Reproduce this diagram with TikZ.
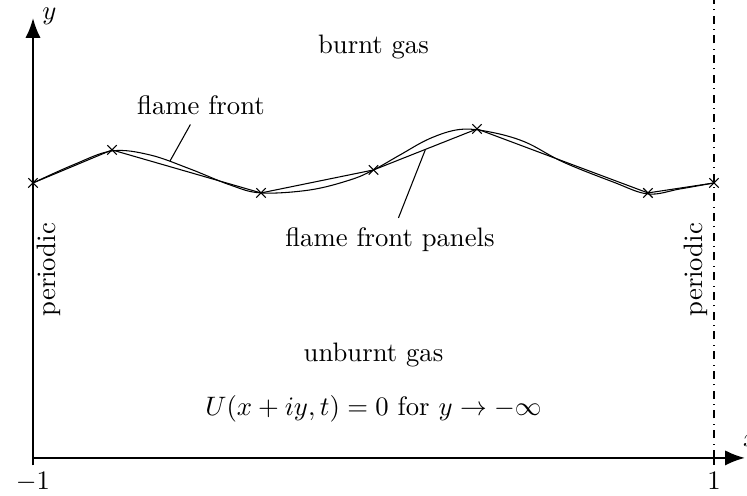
\documentclass[tikz,border=0pt]{standalone}
\usepackage{tikz}
\usetikzlibrary{arrows.meta,positioning}
\tikzset{
  axis/.style  = {thick, -{Latex[length=2.6mm,width=2mm]}},
  tick/.style  = {thick},
  front/.style = {thin},
  panel/.style = {thin, mark=x, mark size=2.5pt},
  lead/.style  = {thin},
  perline/.style = {thin, dash dot},
  lbl/.style   = {align=center},
  per/.style   = {rotate=90, inner sep=1pt},
}

\begin{document}
\begin{tikzpicture}[x=4.485cm, y=4.485cm]
    \useasboundingbox (-1.097,-0.1116) rectangle (1.097,1.345);
    % achsen
    \coordinate (o)  at (-1,0);
    \coordinate (xe) at (1.091,0);
    \coordinate (yb) at (-1,-0.022);
    \coordinate (ye) at (-1,1.292);
    \draw[axis] (o) -- (xe);
    \draw[axis] (yb) -- (ye);
    \node[inner sep=0pt] (ylab) at (-0.952,1.298) {$y$};
    \node (xlab) at (1.108,0.05) {$x$};
    \coordinate (t1a) at (1,-0.02);
    \coordinate (t1b) at (1,0.02);
    \draw[tick] (t1a) -- (t1b);
    \coordinate (pb) at (1,0);
    \node[below=2pt of o]  (mone) {$-1$};
    \node[below=2pt of pb] (pone) {$1$};
    % periodischer rand
    \coordinate (pt) at (1,1.345);
    \draw[perline] (pb) -- (pt);
    % flammenfront und panels
    \draw[front] plot[smooth, tension=0.6] coordinates {(-1,0.8076) (-0.8825,0.8605) (-0.768,0.9016) (-0.6564,0.8899)
      (-0.5389,0.8488) (-0.4214,0.8018) (-0.3304,0.7783) (-0.1865,0.7871) (-0.069,0.8164)
      (0,0.8458) (0.0778,0.8899) (0.1659,0.9383) (0.254,0.9648) (0.3421,0.9574) (0.4449,0.928)
      (0.5565,0.8693) (0.7034,0.8106) (0.806,0.7753) (0.9001,0.79) (1,0.8076)};
    \draw[panel] plot coordinates {(-1,0.8076) (-0.768,0.9046) (-0.3304,0.7783) (0,0.8458) (0.304,0.9662) (0.806,0.7783) (1,0.8076)};
    % beschriftung
    \node[lbl] (burnt) at (0,1.207) {burnt gas};
    \node[lbl] (ff)    at (-0.5066,1.035) {flame front};
    \node[lbl] (ffp)   at (0.0485,0.642) {flame front panels};
    \node[lbl] (unb)   at (0,0.3025) {unburnt gas};
    \node[lbl] (bc)    at (0,0.144) {$U(x+iy,t)=0$ for $y\to-\infty$};
    \node[per] (perl)  at (-0.953,0.553) {periodic};
    \node[per] (perr)  at (0.947,0.553) {periodic};
    % hinweislinien
    \coordinate (ffpt)  at (-0.5977,0.872);
    \coordinate (ffppt) at (0.152,0.9046);
    \draw[lead] (ff) -- (ffpt);
    \draw[lead] (ffp) -- (ffppt);
\end{tikzpicture}
\end{document}
